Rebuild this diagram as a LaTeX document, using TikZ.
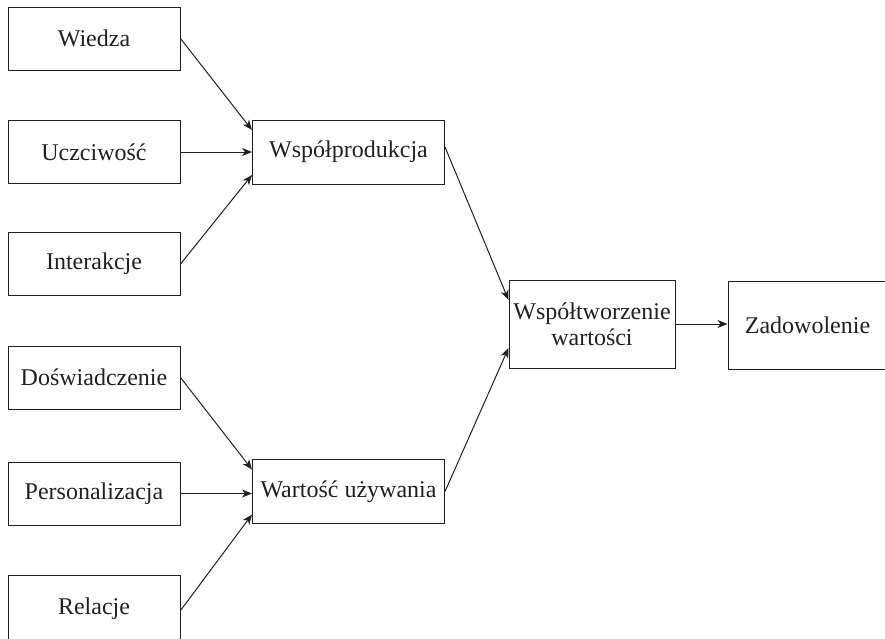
\documentclass[tikz,border=0pt]{standalone}
\usepackage{fontspec}
\setmainfont{Liberation Serif}
\usetikzlibrary{arrows.meta}
\definecolor{inkc}{HTML}{231F20}
\begin{document}
\begin{tikzpicture}[x=1pt,y=-1pt,
  box/.style={draw=inkc,line width=1pt,rectangle,inner sep=0pt,text=inkc,
    font=\fontsize{24}{26}\selectfont,align=center},
  leftbox/.style={box,minimum width=172pt,minimum height=63pt},
  midbox/.style={box,minimum width=192pt,minimum height=64pt},
  conn/.style={draw=inkc,line width=1pt,-{Stealth[length=10pt,width=8pt,inset=3pt]}}]
\useasboundingbox (0,0) rectangle (885,638);
\clip (0,0) rectangle (885,638);
\node[leftbox] (wiedza) at (94,38.5) {Wiedza};
\node[leftbox] (ucz) at (94,152) {Uczciwość};
\node[leftbox] (inter) at (94,264) {Interakcje};
\node[leftbox] (dosw) at (94,377.5) {Doświadczenie};
\node[leftbox] (pers) at (94,493.5) {Personalizacja};
\node[leftbox,minimum height=66pt] (rel) at (94,608.5) {Relacje};
\node[midbox] (wsp) at (348.5,152) {Współprodukcja};
\node[midbox] (wart) at (348.5,491.5) {Wartość używania};
\node[box,minimum width=166pt,minimum height=88pt] (wspt) at (592,324) {Współtworzenie\\wartości};
\node[box,minimum width=159pt,minimum height=88pt] (zad) at (807.5,325) {Zadowolenie};
\draw[conn] (wiedza.east) -- ([yshift=22pt]wsp.west);
\draw[conn] (ucz.east) -- (wsp.west |- ucz.east);
\draw[conn] (inter.east) -- ([yshift=-23pt]wsp.west);
\draw[conn] (dosw.east) -- ([yshift=22pt]wart.west);
\draw[conn] (pers.east) -- (wart.west |- pers.east);
\draw[conn] ([yshift=-2pt]rel.east) -- ([yshift=-23pt]wart.west);
\draw[conn] ([yshift=5pt]wsp.east) -- ([yshift=24pt]wspt.west);
\draw[conn] (wart.east) -- ([yshift=-24pt]wspt.west);
\draw[conn] (wspt.east) -- (zad.west |- wspt.east);
\end{tikzpicture}
\end{document}
